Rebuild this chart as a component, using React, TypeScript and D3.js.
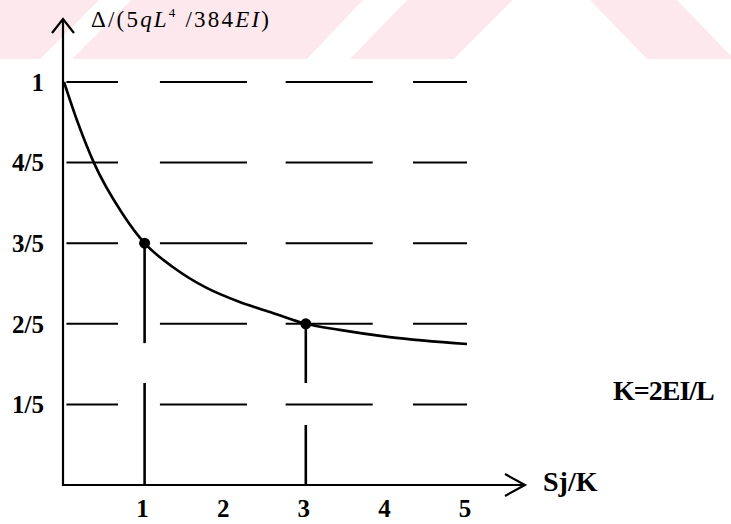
import React from 'react';
import * as d3 from 'd3';

// curve: Sj/K vs Δ/(5qL^4/384EI)
const curveS = [0, 0.17, 0.37, 0.72, 1, 1.35, 1.77, 2.18, 2.59, 3, 3.42, 4.04, 5];
const curveV = [1, 0.9, 0.8, 0.675, 0.6, 0.541, 0.489, 0.454, 0.427, 0.4, 0.385, 0.367, 0.35];

// marked points
const markS = [1, 3];
const markV = [0.6, 0.4];

// broken vertical drop lines [s, from, to]
const dropSegs: [number, number, number][] = [
  [1, 0.6, 0.352],
  [1, 0.253, 0],
  [3, 0.4, 0.253],
  [3, 0.149, 0],
];

const yTicks = [1, 0.8, 0.6, 0.4, 0.2];
const yTickLabels = ['1', '4/5', '3/5', '2/5', '1/5'];
const xTicks = [1, 2, 3, 4, 5];
const xTickLabels = ['1', '2', '3', '4', '5'];

// dashes of the horizontal guide lines, in Sj/K units
const gridDashes: [number, number][] = [
  [0.03, 0.67],
  [1.19, 2.27],
  [2.75, 3.83],
  [4.33, 5],
];

// faint pink watermark band at the top
const watermark = [
  '0,0 99,0 40,59 0,59',
  '131,0 363,0 307,59 72,59',
  '407,0 513,0 454,59 350,59',
  '590,0 677,0 731,56 731,59 647,59',
];

const W = 731;
const H = 524;

export default function App() {
  const x = d3.scaleLinear().domain([0, 5]).range([64, 467]);
  const y = d3.scaleLinear().domain([0, 1]).range([485, 82]);

  const pts = curveS.map((s, i) => [s, curveV[i]] as [number, number]);
  const line = d3
    .line<[number, number]>()
    .x(d => x(d[0]))
    .y(d => y(d[1]))
    .curve(d3.curveMonotoneX);

  const x0 = x(0) - 1;
  const y0 = y(0);
  const serif = '"Liberation Serif", "Times New Roman", serif';
  const bold = { fontFamily: serif, fontWeight: 700 };

  return (
    <svg
      width={W}
      height={H}
      style={{ position: 'absolute', left: 0, top: 0, background: '#fff' }}
    >
      {watermark.map((p, i) => (
        <polygon key={i} points={p} fill="#fde9ed" />
      ))}

      {/* dashed guide lines */}
      {yTicks.map(v =>
        gridDashes.map(([a, b], j) => (
          <line
            key={v + '-' + j}
            x1={x(a)}
            x2={x(b)}
            y1={y(v)}
            y2={y(v)}
            stroke="#000"
            strokeWidth={2}
          />
        ))
      )}

      {/* drop lines */}
      {dropSegs.map(([s, a, b], i) => (
        <line key={i} x1={x(s)} x2={x(s)} y1={y(a)} y2={y(b)} stroke="#000" strokeWidth={2.6} />
      ))}

      {/* axes */}
      <line x1={x0} x2={x0} y1={y0 + 1} y2={19} stroke="#000" strokeWidth={2.2} />
      <polyline points={`${x0 - 11},33 ${x0},19 ${x0 + 11},33`} fill="none" stroke="#000" strokeWidth={2.2} />
      <line x1={x0} x2={525} y1={y0} y2={y0} stroke="#000" strokeWidth={2.2} />
      <polyline points={`505,474 525,${y0} 505,496`} fill="none" stroke="#000" strokeWidth={2.2} />

      {/* curve */}
      <path d={line(pts) ?? ''} fill="none" stroke="#000" strokeWidth={2.6} />
      {markS.map((s, i) => (
        <circle key={i} cx={x(s)} cy={y(markV[i])} r={5.5} fill="#000" />
      ))}

      {/* tick labels */}
      {yTicks.map((v, i) => (
        <text key={v} x={44} y={y(v)} dy="0.35em" textAnchor="end" fontSize={25} {...bold}>
          {yTickLabels[i]}
        </text>
      ))}
      {xTicks.map((v, i) => (
        <text key={v} x={x(v) - 2} y={517} textAnchor="middle" fontSize={25} {...bold}>
          {xTickLabels[i]}
        </text>
      ))}

      {/* axis titles */}
      <text x={91} y={27} fontSize={23} letterSpacing={2.2} fontFamily={serif}>
        Δ/(5<tspan fontStyle="italic">qL</tspan>
        <tspan fontSize={13} dy={-10}>4</tspan>
        <tspan dy={10}> /384</tspan>
        <tspan fontStyle="italic">EI</tspan>)
      </text>
      <text x={543} y={491} fontSize={28} {...bold}>
        Sj/K
      </text>
      <text x={613} y={400} fontSize={28} letterSpacing={-1} {...bold}>
        K=2EI/L
      </text>
    </svg>
  );
}
